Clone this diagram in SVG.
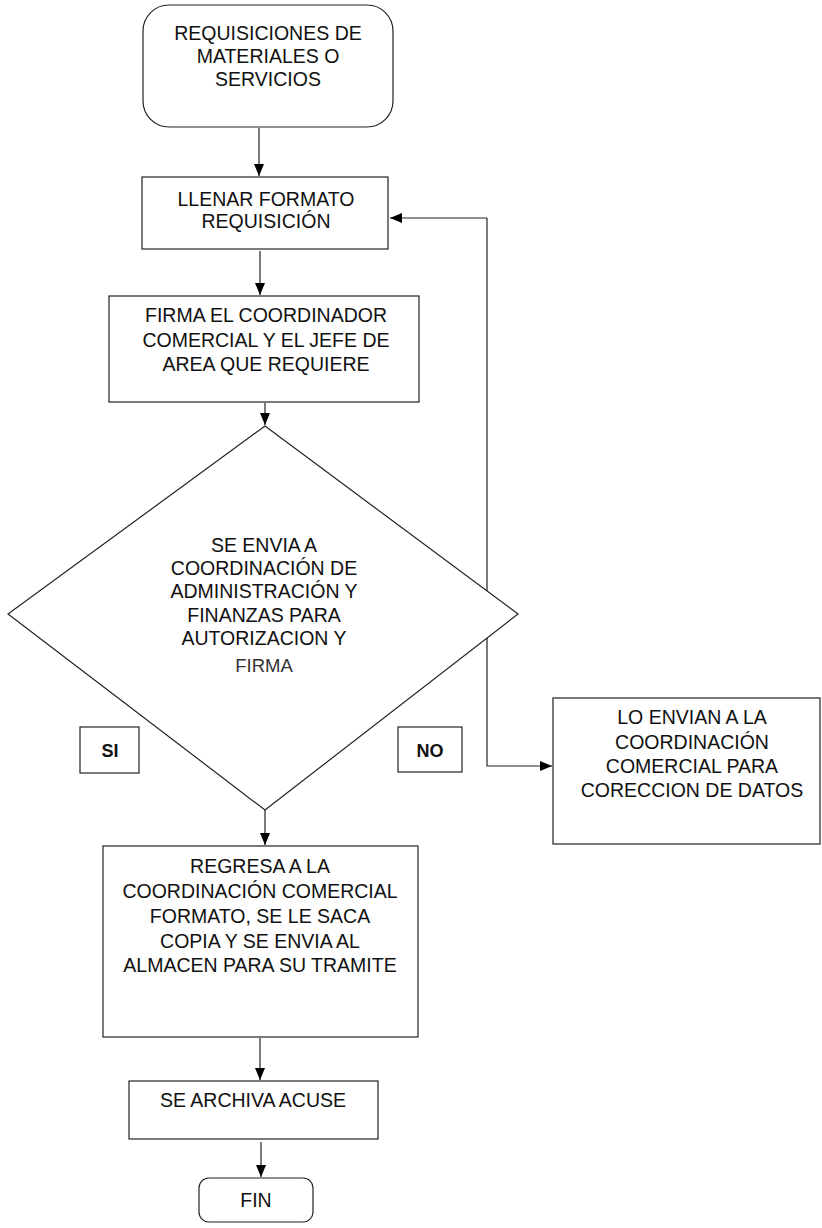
<svg xmlns="http://www.w3.org/2000/svg" width="822" height="1228" viewBox="0 0 822 1228">
<style>
.shape{fill:#fff;stroke:#222;stroke-width:1.2}
.t{font-family:"Liberation Sans",Arial,sans-serif;font-size:19.5px;fill:#111;text-anchor:middle}
.b{font-family:"Liberation Sans",Arial,sans-serif;font-size:18px;font-weight:bold;fill:#111;text-anchor:middle}
.c{fill:none;stroke:#222;stroke-width:1.2}
</style>
<defs>
<marker id="ah" markerWidth="12" markerHeight="12" viewBox="0 0 12 12" refX="12" refY="6" orient="auto" markerUnits="userSpaceOnUse">
<path d="M0,1 L12,6 L0,11 Z" fill="#000"/>
</marker>
</defs>
<rect width="822" height="1228" fill="#fff"/>
<g id="connectors">
<path class="c" d="M259,128 V176" marker-end="url(#ah)"/>
<path class="c" d="M260,251 V295" marker-end="url(#ah)"/>
<path class="c" d="M265,403 V425" marker-end="url(#ah)"/>
<path class="c" d="M265,810 V845" marker-end="url(#ah)"/>
<path class="c" d="M260,1038 V1080" marker-end="url(#ah)"/>
<path class="c" d="M261,1142 V1177" marker-end="url(#ah)"/>
<path class="c" d="M487,218 V766 H552" marker-end="url(#ah)"/>
<path class="c" d="M487,218 H390" marker-end="url(#ah)"/>
</g>
<g id="start">
<rect class="shape" x="143" y="5" width="250" height="122" rx="26"/>
<text class="t" x="268" y="40">REQUISICIONES DE</text>
<text class="t" x="268" y="63">MATERIALES O</text>
<text class="t" x="268" y="86">SERVICIOS</text>
</g>
<g id="llenar">
<rect class="shape" x="142" y="177" width="246" height="72"/>
<text class="t" x="266" y="206">LLENAR FORMATO</text>
<text class="t" x="266" y="228">REQUISICIÓN</text>
</g>
<g id="firma">
<rect class="shape" x="109" y="296" width="310" height="106"/>
<text class="t" x="266" y="322">FIRMA EL COORDINADOR</text>
<text class="t" x="266" y="347">COMERCIAL Y EL JEFE DE</text>
<text class="t" x="266" y="371">AREA QUE REQUIERE</text>
</g>
<g id="decision">
<polygon class="shape" points="265,426 518,614 265,810 8,614"/>
<text class="t" x="264" y="552">SE ENVIA A</text>
<text class="t" x="264" y="575">COORDINACIÓN DE</text>
<text class="t" x="264" y="598">ADMINISTRACIÓN Y</text>
<text class="t" x="264" y="622">FINANZAS PARA</text>
<text class="t" x="264" y="645">AUTORIZACION Y</text>
<text class="t" x="264" y="672" style="font-size:18.5px;fill:#333">FIRMA</text>
</g>
<g id="si">
<rect class="shape" x="80" y="727" width="59" height="46"/>
<text class="b" x="110" y="757">SI</text>
</g>
<g id="no">
<rect class="shape" x="398" y="727" width="64" height="45"/>
<text class="b" x="430" y="757">NO</text>
</g>
<g id="correccion">
<rect class="shape" x="553" y="698" width="267" height="146"/>
<text class="t" x="692" y="724">LO ENVIAN A LA</text>
<text class="t" x="692" y="749">COORDINACIÓN</text>
<text class="t" x="692" y="773">COMERCIAL PARA</text>
<text class="t" x="692" y="797">CORECCION DE DATOS</text>
</g>
<g id="regresa">
<rect class="shape" x="103" y="846" width="315" height="191"/>
<text class="t" x="260" y="873">REGRESA A LA</text>
<text class="t" x="260" y="898">COORDINACIÓN COMERCIAL</text>
<text class="t" x="260" y="923">FORMATO, SE LE SACA</text>
<text class="t" x="260" y="948">COPIA Y SE ENVIA AL</text>
<text class="t" x="260" y="972">ALMACEN PARA SU TRAMITE</text>
</g>
<g id="archiva">
<rect class="shape" x="129" y="1081" width="249" height="58"/>
<text class="t" x="253" y="1107">SE ARCHIVA ACUSE</text>
</g>
<g id="fin">
<rect class="shape" x="199" y="1178" width="114" height="44" rx="10"/>
<text class="t" x="256" y="1207">FIN</text>
</g>
</svg>
